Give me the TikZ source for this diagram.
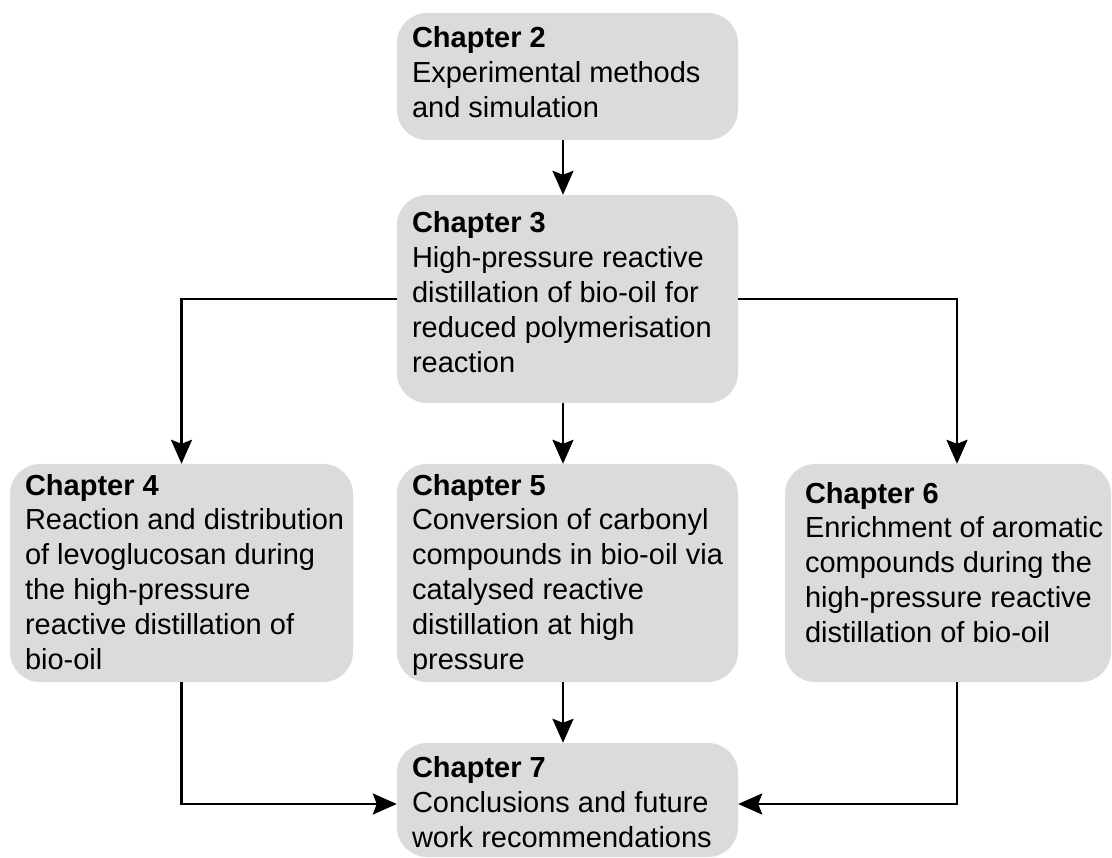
\documentclass[tikz,border=0pt]{standalone}
\usepackage{fontspec}
\setmainfont{Liberation Sans}
\usetikzlibrary{arrows.meta}
\definecolor{boxgray}{RGB}{219,219,219}
\newcommand{\hd}[1]{\textbf{#1}}
\newcommand{\tl}[1]{\mbox{#1}}
\tikzset{
  chbox/.style={fill=boxgray, draw=none, rounded corners=30pt, inner ysep=0pt,
    font={\fontsize{29}{35}\selectfont}},
  arr/.style={line width=2.6pt, -{Stealth[length=24pt,width=21pt,inset=4pt]}}
}
\begin{document}
\begin{tikzpicture}[x=1pt,y=-1pt]
\useasboundingbox (0,0) rectangle (1112,858);
% Chapter 2
\node[chbox, inner xsep=15pt] (c2) at (567.5,76.5)
  {\parbox[c][127pt][t]{311pt}{\rule{0pt}{35pt}\hd{Chapter 2}\\\tl{Experimental methods}\\\tl{and simulation}}};
% Chapter 3
\node[chbox, inner xsep=15pt] (c3) at (567.5,299)
  {\parbox[c][208pt][t]{311pt}{\rule{0pt}{38pt}\hd{Chapter 3}\\\tl{High-pressure reactive}\\\tl{distillation of bio-oil for}\\\tl{reduced polymerisation}\\\tl{reaction}}};
% Chapter 4
\node[chbox, inner xsep=15pt] (c4) at (181.5,573)
  {\parbox[c][218pt][t]{313pt}{\rule{0pt}{31pt}\hd{Chapter 4}\\\tl{Reaction and distribution}\\\tl{of levoglucosan during}\\\tl{the high-pressure}\\\tl{reactive distillation of}\\\tl{bio-oil}}};
% Chapter 5
\node[chbox, inner xsep=15pt] (c5) at (567.5,573)
  {\parbox[c][218pt][t]{311pt}{\rule{0pt}{31pt}\hd{Chapter 5}\\\tl{Conversion of carbonyl}\\\tl{compounds in bio-oil via}\\\tl{catalysed reactive}\\\tl{distillation at high}\\\tl{pressure}}};
% Chapter 6
\node[chbox, inner xsep=20pt] (c6) at (948,573)
  {\parbox[c][218pt][t]{286pt}{\rule{0pt}{39pt}\hd{Chapter 6}\\\tl{Enrichment of aromatic}\\\tl{compounds during the}\\\tl{high-pressure reactive}\\\tl{distillation of bio-oil}}};
% Chapter 7
\node[chbox, inner xsep=15pt] (c7) at (567.5,800)
  {\parbox[c][114pt][t]{311pt}{\rule{0pt}{34pt}\hd{Chapter 7}\\\tl{Conclusions and future}\\\tl{work recommendations}}};
% connectors
\draw[arr] ([xshift=-4.5pt]c2.south) -- ([xshift=-4.5pt]c3.north);
\draw[arr] (c3.west) -| (c4.north);
\draw[arr] (c3.east) -| ([xshift=9pt]c6.north);
\draw[arr] ([xshift=-4.5pt]c3.south) -- ([xshift=-4.5pt]c5.north);
\draw[arr] ([xshift=-4.5pt]c5.south) -- ([xshift=-4.5pt]c7.north);
\draw[arr] (c4.south) |- ([yshift=-4pt]c7.west);
\draw[arr] ([xshift=9pt]c6.south) |- ([yshift=-4pt]c7.east);
\end{tikzpicture}
\end{document}
